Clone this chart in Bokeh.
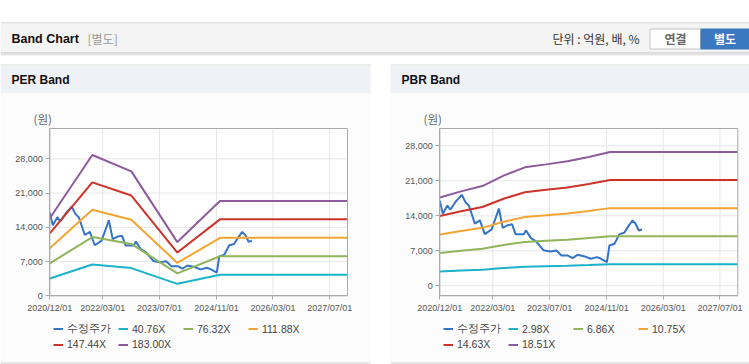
import pandas as pd
from bokeh.plotting import figure
from bokeh.models import (Range1d, FixedTicker, NumeralTickFormatter, DatetimeTickFormatter,
                          Legend, LegendItem, LinearAxis, DatetimeAxis)
from bokeh.core.properties import value
from bokeh.embed import file_html
from bokeh.resources import INLINE

# ---------------- data ----------------
price_dates = ["2020-12-01", "2020-12-27", "2021-02-04", "2021-03-01", "2021-04-13", "2021-06-07",
               "2021-07-10", "2021-08-07", "2021-09-28", "2021-11-10", "2021-12-22", "2022-02-19",
               "2022-04-22", "2022-05-25", "2022-07-01", "2022-08-13", "2022-09-13", "2022-11-22",
               "2022-12-10", "2023-01-19", "2023-03-07", "2023-05-10", "2023-07-07", "2023-08-28",
               "2023-10-10", "2023-12-04", "2024-01-13", "2024-02-25", "2024-04-19", "2024-06-19",
               "2024-08-10", "2024-09-10", "2024-11-04", "2024-11-25", "2025-01-07", "2025-02-19",
               "2025-04-01", "2025-05-01", "2025-06-10", "2025-07-07", "2025-08-04", "2025-09-01"]
price_values = [17000, 14400, 16070, 15200, 16720, 18200, 16700, 16060, 12430, 13100,
                10340, 11280, 15450, 11580, 12060, 12300, 10300, 10300, 11080, 9600,
                8880, 7100, 6860, 7060, 6060, 6060, 5530, 6200, 5930, 5400,
                5730, 5450, 4730, 8060, 8400, 10330, 10600, 11730, 13060, 12400,
                11060, 11260]

per_dates = ["2020-12-01", "2021-12-01", "2022-11-01", "2023-12-01", "2024-12-01", "2027-12-01"]
per_labels = ["40.76X", "76.32X", "111.88X", "147.44X", "183.00X"]
per_40_76 = [3534, 6412, 5666, 2446, 4321, 4321]
per_76_32 = [6617, 12005, 10608, 4579, 8090, 8090]
per_111_88 = [9700, 17599, 15551, 6713, 11859, 11859]
per_147_44 = [12783, 23192, 20494, 8846, 15629, 15629]
per_183_00 = [15866, 28786, 25437, 10980, 19398, 19398]

pbr_dates = ["2020-12-01", "2021-06-01", "2021-12-01", "2022-06-01", "2022-12-01",
             "2023-06-01", "2023-12-01", "2024-06-01", "2024-12-01", "2027-12-01"]
pbr_labels = ["2.98X", "6.86X", "10.75X", "14.63X", "18.51X"]
pbr_2_98 = [2846, 3040, 3212, 3546, 3814, 3910, 4008, 4148, 4306, 4306]
pbr_6_86 = [6551, 6997, 7395, 8163, 8781, 9000, 9227, 9549, 9913, 9913]
pbr_10_75 = [10266, 10965, 11589, 12793, 13760, 14104, 14459, 14964, 15534, 15534]
pbr_14_63 = [13972, 14923, 15771, 17410, 18726, 19195, 19677, 20365, 21140, 21140]
pbr_18_51 = [17677, 18880, 19954, 22027, 23693, 24285, 24896, 25766, 26747, 26747]

price_label = "수정주가"
x_tick_dates = ["2020-12-01", "2022-03-01", "2023-07-01", "2024-11-01", "2026-03-01", "2027-07-01"]
y_ticks = [0, 7000, 14000, 21000, 28000]
x_start, x_end = "2020-12-01", "2027-12-01"
per_y_limits = (0, 34200)
pbr_y_limits = (-2000, 31460)

# ---------------- layout / styles ----------------
W, H = 749, 364
PRICE_COLOR = "#3574c6"
BAND_COLORS = ["#1cb2c9", "#90b45a", "#f2a532", "#cc3329", "#8d5a9c"]
LATIN = "Liberation Sans"
KR = "Noto Sans CJK KR"
GRID = "#e6e6e6"
AXIS = "#aaaaaa"
# plot boxes in canvas pixels: left, right, top, bottom
PER_BOX = (49.3, 347.0, 128.0, 295.3)
PBR_BOX = (439.3, 737.3, 128.0, 295.3)


def ms(d):
    return pd.Timestamp(d).value // 10**6


def fit_range(d0, d1, p0, p1, total):
    """Range whose values d0/d1 land at pixel p0/p1 of a frame 'total' px long."""
    k = (d1 - d0) / (p1 - p0)
    return Range1d(d0 - p0 * k, d0 + (total - p0) * k)


p = figure(width=W, height=H, x_range=Range1d(0, W), y_range=Range1d(H, 0),
           output_backend="svg", toolbar_location=None, min_border=0,
           x_axis_location=None, y_axis_location=None,
           background_fill_color="#ffffff", border_fill_color="#ffffff", outline_line_color=None)
p.grid.visible = False


def rect(l, r, t, b, color, line=None):
    p.quad(left=[l], right=[r], top=[t], bottom=[b], fill_color=color,
           line_color=line, line_width=1 if line else 0)


def txt(x, y, s, font, size, color, bold=False, align="left"):
    p.text(x=[x], y=[y], text=[s], text_font=value(font), text_font_size=value(size),
           text_font_style="bold" if bold else "normal", text_color=color,
           text_baseline="middle", text_align=align)


# ---- top header ----
rect(0, W, 22, 23, "#c8c8c8")
rect(0, W, 23, 52, "#f4f4f4")
rect(0, W, 52, 53, "#bdbdbd")
rect(0, W, 53, 55, "#e4e4e4")
txt(11, 38, "Band Chart", LATIN, "12.5px", "#111111", bold=True)
txt(87, 38, "[별도]", KR, "12px", "#999999")
txt(552, 38, "단위 : 억원, 배, %", KR, "12px", "#333333")
rect(649.5, 700, 28.5, 48.5, "#ffffff", line="#c4c4c4")
txt(675, 38, "연결", KR, "12px", "#666666", bold=True, align="center")
rect(700, W, 28, 49, "#3a78bf")
txt(724.5, 38, "별도", KR, "12px", "#ffffff", bold=True, align="center")

# ---- panels ----
for (pl, pr, name) in [(0, 370, "PER Band"), (390, W, "PBR Band")]:
    rect(pl, pr, 64, 65, "#d8d8d8")
    rect(pl, pr, 65, 93, "#eef2f7")
    rect(pl, pr, 93, 362, "#fcfcfc")
    rect(pl, pr, 362, 363, "#d0d0d0")
    txt(pl + 11, 79.5, name, LATIN, "12px", "#111111", bold=True)
    txt(pl + 33, 118, "(원)", KR, "11.5px", "#666666")


def chart(key, box, ylim, band_dates, bands, labels):
    left, right, top, bottom = box
    xr, yr = key + "_x", key + "_y"
    x0, x1 = ms(x_start), ms(x_end)
    y0, y1 = ylim
    p.extra_x_ranges[xr] = fit_range(x0, x1, left, right, W)
    p.extra_y_ranges[yr] = fit_range(y0, y1, H - bottom, H - top, H)
    kw = dict(x_range_name=xr, y_range_name=yr)

    # plot background and grid
    p.quad(left=[x0], right=[x1], bottom=[y0], top=[y1], fill_color="#ffffff", line_color=None, **kw)
    xt = [ms(d) for d in x_tick_dates]
    p.segment(x0=xt, x1=xt, y0=[y0] * len(xt), y1=[y1] * len(xt), line_color=GRID, line_width=1, **kw)
    yt = [v for v in y_ticks if y0 <= v <= y1]
    p.segment(x0=[x0] * len(yt), x1=[x1] * len(yt), y0=yt, y1=yt, line_color=GRID, line_width=1, **kw)

    items = []
    r = p.line([ms(d) for d in price_dates], price_values, line_color=PRICE_COLOR, line_width=2, **kw)
    items.append(LegendItem(label=price_label, renderers=[r]))
    bd = [ms(d) for d in band_dates]
    for vals, lab, col in zip(bands, labels, BAND_COLORS):
        rb = p.line(bd, vals, line_color=col, line_width=2, **kw)
        items.append(LegendItem(label=lab, renderers=[rb]))

    p.quad(left=[x0], right=[x1], bottom=[y0], top=[y1], fill_color=None,
           line_color=AXIS, line_width=1, **kw)

    yax = LinearAxis(fixed_location=x0, bounds=(y0, y1), ticker=FixedTicker(ticks=y_ticks),
                     formatter=NumeralTickFormatter(format="0,0"), **kw)
    xax = DatetimeAxis(fixed_location=y0, bounds=(x0, x1), ticker=FixedTicker(ticks=xt),
                       formatter=DatetimeTickFormatter(days="%Y/%m/%d", months="%Y/%m/%d",
                                                       years="%Y/%m/%d"), **kw)
    for ax in (xax, yax):
        ax.axis_line_color = AXIS
        ax.major_tick_line_color = AXIS
        ax.major_tick_out = 4
        ax.major_tick_in = 0
        ax.minor_tick_line_color = None
        ax.major_label_text_font = LATIN
        ax.major_label_text_font_size = "9px"
        ax.major_label_text_color = "#555555"
        ax.major_label_standoff = 3
    p.add_layout(yax, "left")
    p.add_layout(xax, "below")

    lg = Legend(items=items, orientation="horizontal", ncols=4,
                location=(left - 0.3, H - 354.5), margin=0, padding=4, spacing=2,
                glyph_width=10, glyph_height=13, label_height=13, label_width=49, label_standoff=4,
                border_line_alpha=0, background_fill_alpha=0,
                label_text_font=LATIN, label_text_font_size="10.5px", label_text_color="#444444")
    p.add_layout(lg)


chart("per", PER_BOX, per_y_limits, per_dates,
      [per_40_76, per_76_32, per_111_88, per_147_44, per_183_00], per_labels)
chart("pbr", PBR_BOX, pbr_y_limits, pbr_dates,
      [pbr_2_98, pbr_6_86, pbr_10_75, pbr_14_63, pbr_18_51], pbr_labels)

open("out.html", "w").write(file_html(p, INLINE))
